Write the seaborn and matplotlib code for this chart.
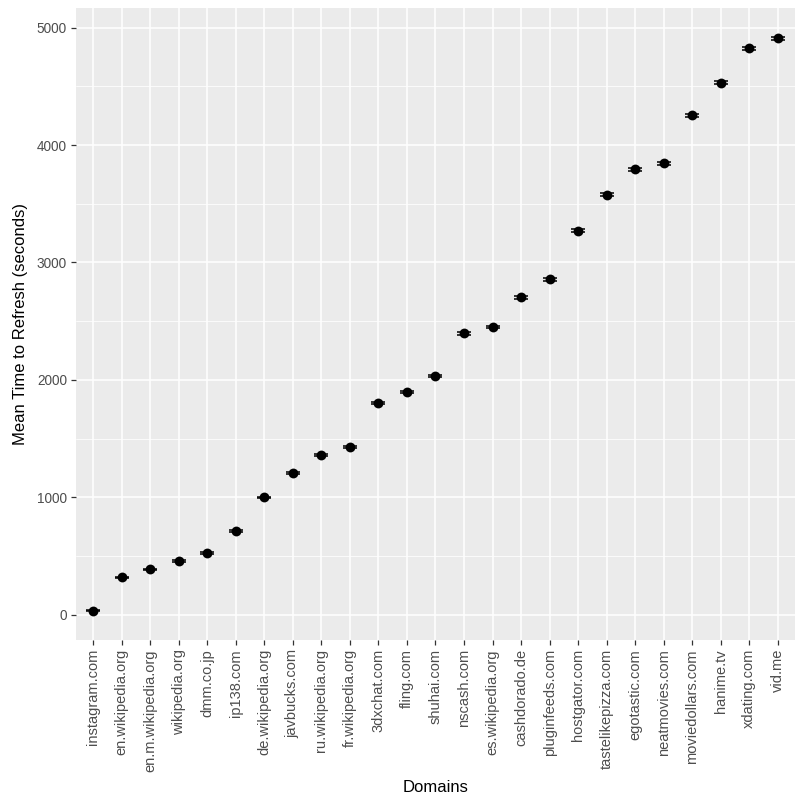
import matplotlib
matplotlib.use("Agg")
import matplotlib.pyplot as plt
from matplotlib.ticker import MultipleLocator
import numpy as np
import pandas as pd
import seaborn as sns

# values
domains = ['instagram.com', 'en.wikipedia.org', 'en.m.wikipedia.org', 'wikipedia.org',
           'dmm.co.jp', 'ip138.com', 'de.wikipedia.org', 'javbucks.com',
           'ru.wikipedia.org', 'fr.wikipedia.org', '3dxchat.com', 'fling.com',
           'shuhai.com', 'nscash.com', 'es.wikipedia.org', 'cashdorado.de',
           'pluginfeeds.com', 'hostgator.com', 'tastelikepizza.com', 'egotastic.com',
           'neatmovies.com', 'moviedollars.com', 'hanime.tv', 'xdating.com', 'vid.me']
mean_refresh = [36, 318, 387, 456, 526, 710, 1000, 1207, 1363, 1432,
                1801, 1898, 2036, 2396, 2453, 2702, 2857, 3269, 3578, 3792,
                3845, 4252, 4531, 4822, 4908]
err_refresh = [6, 6, 7, 7, 7, 8, 7, 8, 8, 8,
               9, 9, 10, 10, 10, 11, 11, 12, 12, 12,
               12, 13, 13, 14, 14]

df = pd.DataFrame({'domain': domains, 'mean': mean_refresh, 'err': err_refresh})

sns.set_theme(style="darkgrid", rc={
    'axes.facecolor': '#EBEBEB',
    'grid.color': 'white',
    'axes.edgecolor': '#EBEBEB',
    'xtick.bottom': True, 'ytick.left': True,
    'xtick.color': '#333333', 'ytick.color': '#333333',
    'xtick.major.size': 3.5, 'ytick.major.size': 3.5,
    'xtick.major.width': 0.9, 'ytick.major.width': 0.9,
})
plt.rcParams['font.family'] = ['Liberation Sans', 'DejaVu Sans']

fig = plt.figure(figsize=(8.03, 8.02), dpi=100)
ax = fig.add_axes([0.0946, 0.202, 0.8954, 0.788])

ax.errorbar(df['domain'], df['mean'], yerr=df['err'], fmt='none',
            ecolor='black', elinewidth=1.1, capsize=5, capthick=1.1, zorder=3)
sns.scatterplot(data=df, x='domain', y='mean', color='black', s=50,
                edgecolor='black', linewidth=0, ax=ax, zorder=4)

lo = min(m - e for m, e in zip(mean_refresh, err_refresh))
hi = max(m + e for m, e in zip(mean_refresh, err_refresh))
pad = (hi - lo) * 0.05
ax.set_ylim(lo - pad, hi + pad)
ax.set_xlim(-0.6, len(domains) - 0.4)

ax.yaxis.set_major_locator(MultipleLocator(1000))
ax.yaxis.set_minor_locator(MultipleLocator(500))
ax.grid(which='major', color='white', linewidth=1.1)
ax.grid(which='minor', axis='y', color='white', linewidth=0.55)
ax.tick_params(axis='y', which='minor', left=False)

ax.tick_params(axis='x', labelrotation=90, labelsize=10.5, labelcolor='#4D4D4D', pad=3)
ax.tick_params(axis='y', labelsize=9.8, labelcolor='#4D4D4D', pad=3)
for lab in ax.get_xticklabels():
    lab.set_verticalalignment('top')
    lab.set_horizontalalignment('center')

ax.set_xlabel('Domains', fontsize=12, color='black', labelpad=6)
ax.set_ylabel('Mean Time to Refresh (seconds)', fontsize=12, color='black', labelpad=6)
for s in ax.spines.values():
    s.set_visible(False)

fig.savefig('out.png', dpi=100)
